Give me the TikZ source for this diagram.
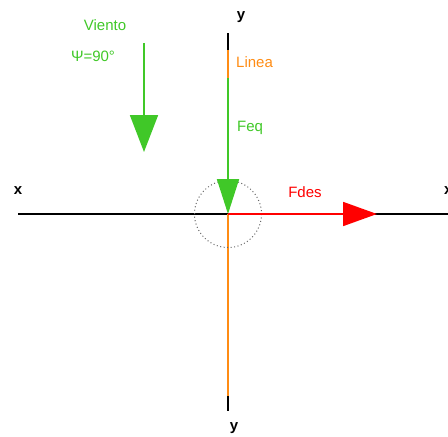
\documentclass[tikz,border=0pt]{standalone}
\usepackage{fontspec}
\setmainfont{Liberation Sans}
\usetikzlibrary{arrows.meta}
\definecolor{green}{RGB}{64,200,40}
\definecolor{orange}{RGB}{255,140,20}
\definecolor{red}{RGB}{255,0,0}

\begin{document}
\begin{tikzpicture}[x=1pt,y=-1pt,
  lbl/.style={font=\fontsize{15}{17}\selectfont, inner sep=0pt},
  axlbl/.style={font=\fontsize{15}{16}\selectfont\bfseries, inner sep=0pt},
  axis/.style={line width=2pt, black},
  force/.style={line width=1.8pt}]

\useasboundingbox (0,0) rectangle (448,437);

%---------------------------------------
% Points
%---------------------------------------
\coordinate (O) at (228,214);
\coordinate (xL) at (18,214);
\coordinate (xR) at (448,214);
\coordinate (yT) at (228,33);
\coordinate (yB) at (228,411);
\coordinate (lnT) at (228,50);
\coordinate (lnB) at (228,396);
\coordinate (fqT) at (228,78);
\coordinate (fdE) at (377,214);
\coordinate (wT) at (144,43);
\coordinate (wB) at (144,152);

%---------------------------------------
% Axes
%---------------------------------------
\draw[axis] (xL) -- (xR);
\draw[axis] (yT) -- (lnT);
\draw[axis] (lnB) -- (yB);

\node[axlbl] (xl) at (18,191) {x};
\node[axlbl, anchor=west] (xr) at (444,191) {x};
\node[axlbl] (yt) at (241,17) {y};
\node[axlbl] (yb) at (234,428) {y};

% Line (orange)
\draw[force, orange] (lnT) -- (fqT);
\draw[force, orange] (O) -- (lnB);
\node[lbl, orange, anchor=west] (linea) at (236,62) {Linea};

% Dotted circle
\draw[gray!80!black, dash pattern=on 1pt off 2.5pt, line width=1pt] (O) circle (33.5);

%---------------------------------------
% Forces
%---------------------------------------
\draw[force, green, -{Triangle[length=35pt,width=22pt]}] (fqT) -- (O);
\node[lbl, green, anchor=west] (feq) at (237,128) {Feq};

\draw[force, red, -{Triangle[length=34pt,width=24pt]}] (O) -- (fdE);
\node[lbl, red] (fdes) at (305,192) {Fdes};

% Wind
\draw[force, green, -{Triangle[length=37pt,width=28pt]}] (wT) -- (wB);
\node[lbl, green] (viento) at (105,25) {Viento};
\node[lbl, green] (psi) at (93,56) {Ψ=90°};

\end{tikzpicture}
\end{document}
